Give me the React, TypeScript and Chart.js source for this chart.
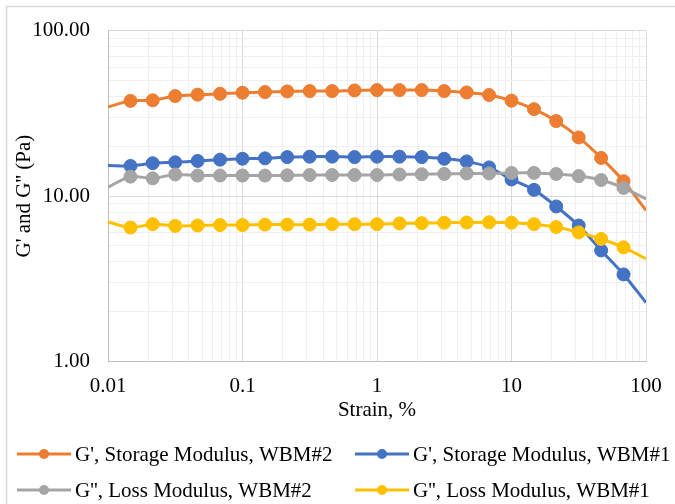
import { useEffect, useRef } from 'react';
import { Chart, registerables } from 'chart.js';

Chart.register(...registerables);

// Strain sweep, % (six points per decade)
const strain = [
  0.01, 0.0147, 0.0215, 0.0316, 0.0464, 0.0681,
  0.1, 0.147, 0.215, 0.316, 0.464, 0.681,
  1, 1.47, 2.15, 3.16, 4.64, 6.81,
  10, 14.7, 21.5, 31.6, 46.4, 68.1, 100,
];

// G', storage modulus, WBM#2 (Pa)
const storageWbm2 = [
  34.6, 37.6, 37.9, 40.2, 41.0, 41.5, 42.1, 42.5, 42.9, 43.1, 43.1, 43.5,
  43.7, 43.7, 43.7, 43.1, 42.3, 40.8, 37.7, 33.5, 28.4, 22.6, 17.0, 12.3, 8.2,
];

// G', storage modulus, WBM#1 (Pa)
const storageWbm1 = [
  15.3, 15.2, 15.8, 16.0, 16.3, 16.6, 16.8, 16.9, 17.2, 17.3, 17.3, 17.2,
  17.3, 17.3, 17.2, 16.8, 16.2, 14.9, 12.6, 10.9, 8.65, 6.63, 4.69, 3.36, 2.27,
];

// G'', loss modulus, WBM#2 (Pa)
const lossWbm2 = [
  11.3, 13.1, 12.8, 13.5, 13.3, 13.3, 13.3, 13.3, 13.35, 13.4, 13.4, 13.4,
  13.4, 13.5, 13.55, 13.6, 13.7, 13.7, 13.8, 13.8, 13.6, 13.2, 12.5, 11.2, 9.6,
];

// G'', loss modulus, WBM#1 (Pa)
const lossWbm1 = [
  6.97, 6.45, 6.76, 6.6, 6.64, 6.68, 6.68, 6.72, 6.72, 6.72, 6.76, 6.76,
  6.76, 6.83, 6.86, 6.9, 6.92, 6.94, 6.9, 6.76, 6.5, 6.03, 5.5, 4.9, 4.18,
];

const seriesNames = [
  "G', Storage Modulus, WBM#2",
  "G', Storage Modulus, WBM#1",
  "G'', Loss Modulus, WBM#2",
  "G'', Loss Modulus, WBM#1",
];
const seriesValues = [storageWbm2, storageWbm1, lossWbm2, lossWbm1];
const seriesColors = ['#ED7D31', '#4472C4', '#A5A5A5', '#FFC000'];

const xTickLabels = ['0.01', '0.1', '1', '10', '100'];
const yTickLabels = ['1.00', '10.00', '100.00'];
const xMin = 0.01;
const xMax = 100;
const yMin = 1;
const yMax = 100;

const FONT = "'Liberation Serif', 'Times New Roman', serif";
const FONT_SIZE = 21;

const isDecade = (v: number) => {
  const e = Math.log10(v);
  return Math.abs(e - Math.round(e)) < 1e-9;
};

// 1..9 × 10^n gridlines across the whole range
const logTicks = (min: number, max: number) => {
  const out: { value: number }[] = [];
  const e0 = Math.round(Math.log10(min));
  const e1 = Math.round(Math.log10(max));
  for (let e = e0; e < e1; e++) {
    for (let m = 1; m <= 9; m++) {
      out.push({ value: Number((m * Math.pow(10, e)).toPrecision(6)) });
    }
  }
  out.push({ value: max });
  return out;
};

const decadeLabel = (labels: string[], min: number) => (value: number | string) => {
  const v = Number(value);
  if (!isDecade(v)) return '';
  const idx = Math.round(Math.log10(v)) - Math.round(Math.log10(min));
  return labels[idx] ?? '';
};

const gridColor = (ctx: any) =>
  ctx.tick && isDecade(ctx.tick.value) ? '#d9d9d9' : '#efefef';

// White page plus the outer frame of the chart
const framePlugin = {
  id: 'frame',
  beforeDraw(chart: any) {
    const { ctx, width, height } = chart;
    ctx.save();
    ctx.fillStyle = '#ffffff';
    ctx.fillRect(0, 0, width, height);
    ctx.strokeStyle = '#d9d9d9';
    ctx.lineWidth = 1.5;
    ctx.beginPath();
    ctx.moveTo(width, 6.5);
    ctx.lineTo(6.5, 6.5);
    ctx.lineTo(6.5, height);
    ctx.stroke();
    ctx.restore();
  },
};

// Two-column legend: line with a dot, then the series name
const legendPlugin = {
  id: 'gridLegend',
  afterDraw(chart: any) {
    const { ctx } = chart;
    const cols = [17, 355];
    const rows = [454, 490];
    ctx.save();
    ctx.font = `${FONT_SIZE}px ${FONT}`;
    ctx.textBaseline = 'middle';
    ctx.textAlign = 'left';
    chart.data.datasets.forEach((ds: any, i: number) => {
      const x0 = cols[i % 2];
      const y = rows[Math.floor(i / 2)];
      ctx.strokeStyle = ds.borderColor;
      ctx.lineWidth = 3;
      ctx.beginPath();
      ctx.moveTo(x0, y);
      ctx.lineTo(x0 + 54, y);
      ctx.stroke();
      ctx.fillStyle = ds.borderColor;
      ctx.beginPath();
      ctx.arc(x0 + 27, y, 5, 0, Math.PI * 2);
      ctx.fill();
      ctx.fillStyle = '#000000';
      ctx.fillText(ds.label, x0 + 58, y + 1);
    });
    ctx.restore();
  },
};

export default function App() {
  const canvasRef = useRef<HTMLCanvasElement | null>(null);

  useEffect(() => {
    if (!canvasRef.current) return;
    Chart.defaults.font.family = FONT;
    Chart.defaults.color = '#000000';

    const datasets = seriesValues.map((vals, i) => ({
      label: seriesNames[i],
      data: strain.map((x, j) => ({ x, y: vals[j] })),
      borderColor: seriesColors[i],
      backgroundColor: seriesColors[i],
      pointBackgroundColor: seriesColors[i],
      pointBorderColor: seriesColors[i],
      borderWidth: 3,
      pointBorderWidth: 1,
      pointRadius: (ctx: any) =>
        ctx.dataIndex === 0 || ctx.dataIndex === strain.length - 1 ? 0 : 6.5,
      tension: 0.3,
      fill: false,
      order: seriesValues.length - i,
    }));

    const chart = new Chart(canvasRef.current, {
      type: 'line',
      data: { datasets },
      options: {
        animation: false,
        responsive: false,
        maintainAspectRatio: false,
        devicePixelRatio: 1,
        layout: { padding: { left: 0, right: 29, top: 26, bottom: 80.5 } },
        plugins: {
          legend: { display: false },
          tooltip: { enabled: false },
          title: { display: false },
        },
        scales: {
          x: {
            type: 'logarithmic',
            min: xMin,
            max: xMax,
            afterBuildTicks: (scale: any) => {
              scale.ticks = logTicks(scale.min, scale.max);
            },
            afterFit: (scale: any) => {
              scale.height = 62;
            },
            ticks: {
              autoSkip: false,
              maxRotation: 0,
              minRotation: 0,
              padding: 12,
              color: '#000000',
              font: { family: FONT, size: FONT_SIZE },
              callback: decadeLabel(xTickLabels, xMin),
            },
            grid: { drawTicks: false, color: gridColor, lineWidth: 1 },
            border: { color: '#bfbfbf', width: 1 },
            title: {
              display: true,
              text: 'Strain, %',
              color: '#000000',
              font: { family: FONT, size: FONT_SIZE },
              padding: { top: 0, bottom: 0 },
            },
          },
          y: {
            type: 'logarithmic',
            min: yMin,
            max: yMax,
            afterBuildTicks: (scale: any) => {
              scale.ticks = logTicks(scale.min, scale.max);
            },
            afterFit: (scale: any) => {
              scale.width = 108;
            },
            ticks: {
              autoSkip: false,
              padding: 18,
              color: '#000000',
              font: { family: FONT, size: FONT_SIZE },
              callback: decadeLabel(yTickLabels, yMin),
            },
            grid: { drawTicks: false, color: gridColor, lineWidth: 1 },
            border: { color: '#bfbfbf', width: 1 },
            title: {
              display: true,
              text: "G' and G'' (Pa)",
              color: '#000000',
              font: { family: FONT, size: FONT_SIZE },
              padding: { top: 12, bottom: 0 },
            },
          },
        },
      },
      plugins: [framePlugin, legendPlugin],
    } as any);

    return () => chart.destroy();
  }, []);

  return (
    <div style={{ position: 'fixed', left: 0, top: 0, width: 675, height: 504, background: '#fff' }}>
      <canvas ref={canvasRef} width={675} height={504} style={{ display: 'block' }} />
    </div>
  );
}
